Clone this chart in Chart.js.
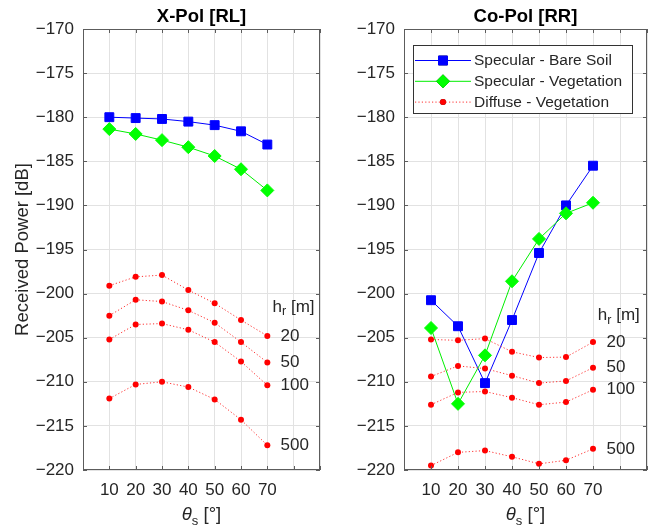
<!DOCTYPE html>
<html>
<head>
<meta charset="utf-8">
<script src="https://cdn.jsdelivr.net/npm/chart.js@4/dist/chart.umd.min.js"></script>
<style>
  html, body { margin: 0; padding: 0; background: #fff; }
  #wrap { position: relative; width: 657px; height: 531px; overflow: hidden; background: #fff; }
  canvas { position: absolute; top: 0; }
</style>
</head>
<body>
<div id="wrap">
  <canvas id="xpol" width="330" height="531" style="left:0px"></canvas>
  <canvas id="copol" width="327" height="531" style="left:330px"></canvas>
</div>
<script>
// Scattering angle (deg)
const thetaS = [10, 20, 30, 40, 50, 60, 70];
const seriesNames = ['Specular - Bare Soil', 'Specular - Vegetation', 'Diffuse - Vegetation'];
const receiverHeights = ['20', '50', '100', '500'];

// X-Pol [RL] received power (dB)
const xpolBareSoil   = [-180.0, -180.1, -180.2, -180.5, -180.9, -181.6, -183.1];
const xpolVegetation = [-181.35, -181.9, -182.6, -183.4, -184.4, -185.9, -188.3];
const xpolDiffuse20  = [-199.1, -198.1, -197.9, -199.6, -201.1, -203.0, -204.8];
const xpolDiffuse50  = [-202.5, -200.7, -200.9, -201.9, -203.3, -205.5, -207.8];
const xpolDiffuse100 = [-205.2, -203.5, -203.4, -204.1, -205.5, -207.7, -210.4];
const xpolDiffuse500 = [-211.9, -210.3, -210.0, -210.6, -212.0, -214.3, -217.2];

// Co-Pol [RR] received power (dB)
const copolBareSoil   = [-200.75, -203.7, -210.15, -203.0, -195.4, -190.0, -185.5];
const copolVegetation = [-203.9, -212.5, -207.0, -198.6, -193.8, -190.9, -189.7];
const copolDiffuse20  = [-205.2, -205.3, -205.1, -206.6, -207.25, -207.2, -205.5];
const copolDiffuse50  = [-209.4, -208.2, -208.5, -209.3, -210.15, -209.9, -208.4];
const copolDiffuse100 = [-212.6, -211.2, -211.1, -211.8, -212.6, -212.3, -210.9];
const copolDiffuse500 = [-219.5, -218.0, -217.8, -218.5, -219.3, -218.9, -217.6];

const FONT = 'Arial, "Liberation Sans", Helvetica, sans-serif';
const TEXT = '#262626';
const AXIS = '#5c5c5c';
const GRID = '#e2e2e2';

const pts = vals => vals.map((v, i) => ({ x: thetaS[i], y: v }));

function buildDatasets(bare, veg, diffuse) {
  const sets = [
    { label: seriesNames[0], data: pts(bare), borderColor: '#0000ff', backgroundColor: '#0000ff',
      borderWidth: 1, pointStyle: 'rect', pointRadius: 6.3, pointBorderWidth: 1, order: 2 },
    { label: seriesNames[1], data: pts(veg), borderColor: '#00ee00', backgroundColor: '#00ff00',
      borderWidth: 1, pointStyle: 'rectRot', pointRadius: 6.5, pointBorderWidth: 1, pointBorderColor: '#00ff00', order: 1 }
  ];
  diffuse.forEach((d, k) => sets.push({
    label: k === 0 ? seriesNames[2] : '', data: pts(d), borderColor: '#ff3030', backgroundColor: '#ff0000',
    pointBorderColor: '#ff0000', borderWidth: 1, borderDash: [1.2, 2.2], pointStyle: 'circle',
    pointRadius: 3, pointBorderWidth: 0, order: 0, isDiffuse: true, heightLabel: receiverHeights[k]
  }));
  return sets;
}

// Boxed axes with inward tick marks, titles, annotations and legend
const decorPlugin = {
  id: 'decor',
  afterDraw(chart, args, o) {
    const { ctx, chartArea: a, scales: { x, y } } = chart;
    ctx.save();
    // box
    ctx.strokeStyle = AXIS;
    ctx.lineWidth = 1;
    ctx.setLineDash([]);
    ctx.strokeRect(a.left + 0.5, a.top + 0.5, a.right - a.left - 1, a.bottom - a.top - 1);
    // inward ticks on all four sides
    const tl = 4;
    ctx.beginPath();
    x.ticks.forEach(t => {
      const px = Math.round(x.getPixelForValue(t.value)) + 0.5;
      ctx.moveTo(px, a.bottom); ctx.lineTo(px, a.bottom - tl);
      ctx.moveTo(px, a.top); ctx.lineTo(px, a.top + tl);
    });
    y.ticks.forEach(t => {
      const py = Math.round(y.getPixelForValue(t.value)) + 0.5;
      ctx.moveTo(a.left, py); ctx.lineTo(a.left + tl, py);
      ctx.moveTo(a.right, py); ctx.lineTo(a.right - tl, py);
    });
    ctx.stroke();

    const cx = (a.left + a.right) / 2;
    // panel title
    ctx.fillStyle = '#000';
    ctx.font = 'bold 18.5px ' + FONT;
    ctx.textAlign = 'center';
    ctx.textBaseline = 'alphabetic';
    ctx.fillText(o.title, cx, 22);

    // x-axis title: θs [°]
    ctx.fillStyle = TEXT;
    const big = '18.5px ' + FONT, small = '13px ' + FONT;
    ctx.font = 'italic ' + big; const w1 = ctx.measureText('\u03b8').width;
    ctx.font = small; const w2 = ctx.measureText('s').width;
    ctx.font = big; const w3 = ctx.measureText(' [\u00b0]').width;
    let sx = cx - (w1 + w2 + w3) / 2;
    const by = 520;
    ctx.textAlign = 'left';
    ctx.font = 'italic ' + big; ctx.fillText('\u03b8', sx, by); sx += w1;
    ctx.font = small; ctx.fillText('s', sx, by + 5); sx += w2;
    ctx.font = big; ctx.fillText(' [\u00b0]', sx, by);

    // y-axis title
    if (o.yTitle) {
      ctx.save();
      ctx.translate(23, (a.top + a.bottom) / 2);
      ctx.rotate(-Math.PI / 2);
      ctx.textAlign = 'center';
      ctx.textBaseline = 'middle';
      ctx.font = '18.5px ' + FONT;
      ctx.fillText(o.yTitle, 0, 0);
      ctx.restore();
    }

    // receiver height annotations
    ctx.fillStyle = TEXT;
    ctx.textAlign = 'left';
    ctx.textBaseline = 'middle';
    const ann = '17px ' + FONT;
    chart.data.datasets.forEach(ds => {
      if (!ds.isDiffuse) return;
      const last = ds.data[ds.data.length - 1];
      ctx.font = ann;
      ctx.fillText(ds.heightLabel, x.getPixelForValue(o.labelX), y.getPixelForValue(last.y));
    });
    // h_r [m]
    let hx = x.getPixelForValue(o.hrPos[0]);
    const hy = y.getPixelForValue(o.hrPos[1]);
    ctx.font = ann; ctx.fillText('h', hx, hy); hx += ctx.measureText('h').width;
    ctx.font = '12.5px ' + FONT; ctx.fillText('r', hx, hy + 5); hx += ctx.measureText('r').width;
    ctx.font = ann; ctx.fillText(' [m]', hx, hy);

    // legend
    if (o.legend) {
      const L = o.legend;
      ctx.fillStyle = '#fff';
      ctx.fillRect(L.x, L.y, L.w, L.h);
      ctx.strokeStyle = '#333';
      ctx.strokeRect(L.x + 0.5, L.y + 0.5, L.w, L.h);
      const entries = chart.data.datasets.filter(ds => ds.label);
      entries.forEach((ds, i) => {
        const ry = L.y + 15 + i * 20.8;
        ctx.save();
        ctx.strokeStyle = ds.borderColor;
        ctx.lineWidth = 1;
        ctx.setLineDash(ds.borderDash || []);
        ctx.beginPath();
        ctx.moveTo(L.x + 2, ry + 0.5); ctx.lineTo(L.x + 58, ry + 0.5);
        ctx.stroke();
        ctx.restore();
        Chart.helpers.drawPoint(ctx, {
          pointStyle: ds.pointStyle, radius: ds.pointRadius, rotation: 0,
          borderWidth: ds.pointBorderWidth || 0
        }, L.x + 30, ry + 0.5);
        ctx.save();
        ctx.fillStyle = ds.backgroundColor;
        ctx.strokeStyle = ds.pointBorderColor || ds.borderColor;
        ctx.setLineDash([]);
        ctx.beginPath();
        if (ds.pointStyle === 'rect') {
          const s = ds.pointRadius * Math.SQRT1_2;
          ctx.rect(L.x + 30 - s, ry + 0.5 - s, 2 * s, 2 * s);
        } else if (ds.pointStyle === 'rectRot') {
          const r = ds.pointRadius, px = L.x + 30, py = ry + 0.5;
          ctx.moveTo(px, py - r); ctx.lineTo(px + r, py); ctx.lineTo(px, py + r); ctx.lineTo(px - r, py); ctx.closePath();
        } else {
          ctx.arc(L.x + 30, ry + 0.5, ds.pointRadius, 0, Math.PI * 2);
        }
        ctx.fill();
        if (ds.pointBorderWidth) ctx.stroke();
        ctx.restore();
        ctx.fillStyle = TEXT;
        ctx.font = '15.5px ' + FONT;
        ctx.textAlign = 'left';
        ctx.textBaseline = 'middle';
        ctx.fillText(ds.label, L.x + 61, ry + 1);
      });
    }
    ctx.restore();
  }
};

function makeChart(id, datasets, yAxisWidth, padRight, decor) {
  return new Chart(document.getElementById(id), {
    type: 'line',
    data: { datasets },
    options: {
      responsive: false,
      animation: false,
      events: [],
      layout: { padding: { left: 0, right: padRight, top: 29, bottom: 0 } },
      plugins: { legend: { display: false }, title: { display: false }, tooltip: { enabled: false }, decor },
      scales: {
        x: {
          type: 'linear', min: 0, max: 90,
          border: { display: false },
          grid: { color: GRID, lineWidth: 1, drawTicks: false },
          ticks: {
            stepSize: 10, autoSkip: false, maxRotation: 0, padding: 10,
            color: TEXT, font: { family: FONT, size: 17 },
            callback: v => (v >= 10 && v <= 70) ? String(v) : ''
          },
          afterFit: s => { s.height = 61; }
        },
        y: {
          type: 'linear', min: -220, max: -170,
          border: { display: false },
          grid: { color: GRID, lineWidth: 1, drawTicks: false },
          ticks: {
            stepSize: 5, autoSkip: false, padding: 9,
            color: TEXT, font: { family: FONT, size: 17 },
            callback: v => String(v).replace('-', '\u2212')
          },
          afterFit: s => { s.width = yAxisWidth; }
        }
      }
    },
    plugins: [decorPlugin]
  });
}

makeChart('xpol',
  buildDatasets(xpolBareSoil, xpolVegetation, [xpolDiffuse20, xpolDiffuse50, xpolDiffuse100, xpolDiffuse500]),
  83, 3,
  { title: 'X-Pol [RL]', yTitle: 'Received Power [dB]', labelX: 75, hrPos: [72, -201.5] });

makeChart('copol',
  buildDatasets(copolBareSoil, copolVegetation, [copolDiffuse20, copolDiffuse50, copolDiffuse100, copolDiffuse500]),
  74, 9,
  { title: 'Co-Pol [RR]', labelX: 75, hrPos: [71.8, -202.5],
    legend: { x: 83, y: 45, w: 219, h: 68 } });
</script>
</body>
</html>
